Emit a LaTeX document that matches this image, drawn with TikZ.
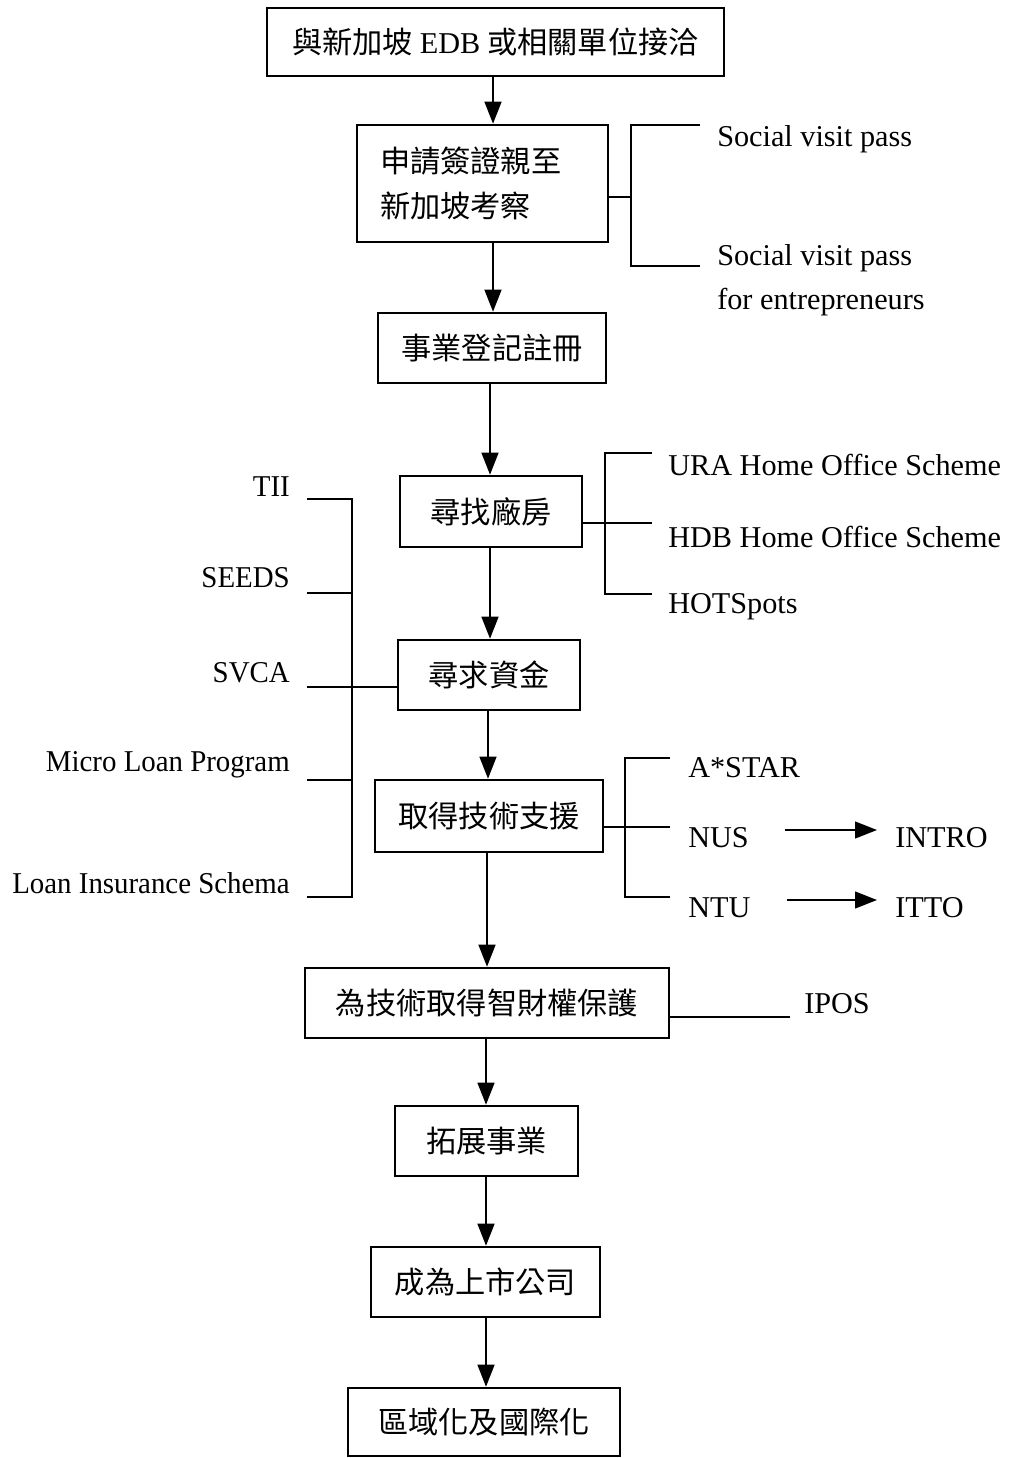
\documentclass[tikz,border=0pt]{standalone}
\usepackage{fontspec}
\setmainfont{Liberation Serif}
\newfontfamily\cjk{Noto Sans CJK TC}
\usepackage{tikz}
\usetikzlibrary{arrows.meta}
\newcommand{\px}{0.025cm}
\tikzset{
  stepbox/.style={draw, line width=1.8pt, inner sep=0pt, minimum height=70*\px,
    font=\cjk\fontsize{21.5}{26}\selectfont},
  lbl/.style={inner sep=0pt, font=\fontsize{21.5}{31}\selectfont},
  narrowlbl/.style={lbl, xscale=0.955, transform shape},
  link/.style={line width=1.4pt},
  flow/.style={line width=1.4pt, -{Triangle[length=0.55cm,width=0.42cm]}}
}

\begin{document}
\begin{tikzpicture}[x=\px, y=-\px]
  \useasboundingbox (0,0) rectangle (1008,1458);
  % main chain
  \node[stepbox, minimum width=457*\px, minimum height=68*\px] (b1) at (495.5,42) {與新加坡 {\rmfamily EDB} 或相關單位接洽};
  \node[stepbox, minimum width=251*\px, minimum height=117*\px, text width=205*\px, align=left,
    font=\cjk\fontsize{21.5}{32}\selectfont] (b2) at (482.5,183.5) {申請簽證親至\\新加坡考察};
  \node[stepbox, minimum width=228*\px] (b3) at (492,348) {事業登記註冊};
  \node[stepbox, minimum width=182*\px, minimum height=71*\px] (b4) at (491,511.5) {尋找廠房};
  \node[stepbox, minimum width=182*\px] (b5) at (489,675) {尋求資金};
  \node[stepbox, minimum width=228*\px, minimum height=72*\px] (b6) at (489,816) {取得技術支援};
  \node[stepbox, minimum width=364*\px] (b7) at (487,1003) {為技術取得智財權保護};
  \node[stepbox, minimum width=183*\px] (b8) at (486.5,1141) {拓展事業};
  \node[stepbox, minimum width=229*\px] (b9) at (485.5,1282) {成為上市公司};
  \node[stepbox, minimum width=272*\px, minimum height=68*\px] (b10) at (484,1422) {區域化及國際化};
  \foreach \a/\b/\x in {b1/b2/493, b2/b3/493, b3/b4/490, b4/b5/490, b5/b6/488,
                        b6/b7/487, b7/b8/486, b8/b9/486, b9/b10/486}
    \draw[flow] (\a.south -| \x,0) -- (\b.north -| \x,0);

  % visa
  \node[lbl, anchor=west] (svp) at (717,139) {Social visit pass};
  \node[lbl, anchor=west, align=left] (svpe) at (717,280) {Social visit pass\\for entrepreneurs};
  \coordinate (kv) at (631,197);
  \draw[link] (b2.east |- kv) -- (kv);
  \draw[link] (700,125) -| (631,266) -- (700,266);

  % premises
  \node[lbl, anchor=west] (ura) at (668,465) {URA Home Office Scheme};
  \node[lbl, anchor=west] (hdb) at (668,537) {HDB Home Office Scheme};
  \node[lbl, anchor=west] (hot) at (668,607) {HOTSpots};
  \coordinate (kp) at (652,523);
  \draw[link] (b4.east |- kp) -- (kp);
  \draw[link] (652,453) -| (605,594) -- (652,594);

  % funding
  \foreach \n/\t/\y in {tii/TII/487, seeds/SEEDS/578, svca/SVCA/673,
                        micro/Micro Loan Program/765, lis/Loan Insurance Schema/883}
    \node[narrowlbl, anchor=east] (\n) at (290,\y) {\t};
  \coordinate (kf) at (307,687);
  \draw[link] (307,499) -| (352,897) -- (307,897);
  \foreach \y in {593,780}
    \draw[link] (307,\y) -- (352,\y);
  \draw[link] (kf) -- (b5.west |- kf);

  % technology
  \node[lbl, anchor=west] (astar) at (688,768) {A*STAR};
  \node[lbl, anchor=west] (nus) at (688,838) {NUS};
  \node[lbl, anchor=west] (ntu) at (688,908) {NTU};
  \node[lbl, anchor=west] (intro) at (895,838) {INTRO};
  \node[lbl, anchor=west] (itto) at (895,908) {ITTO};
  \coordinate (kt) at (670,827);
  \draw[link] (b6.east |- kt) -- (kt);
  \draw[link] (670,758) -| (625,897) -- (670,897);
  \draw[flow, shorten <=0.9cm, shorten >=0.45cm] ([yshift=0.2cm]nus.east) -- ([yshift=0.2cm]intro.west);
  \draw[flow, shorten <=0.9cm, shorten >=0.45cm] ([yshift=0.2cm]ntu.east) -- ([yshift=0.2cm]itto.west);

  % patent
  \node[lbl, anchor=west] (ipos) at (804,1004) {IPOS};
  \coordinate (ki) at (790,1017);
  \draw[link] (b7.east |- ki) -- (ki);
\end{tikzpicture}
\end{document}
